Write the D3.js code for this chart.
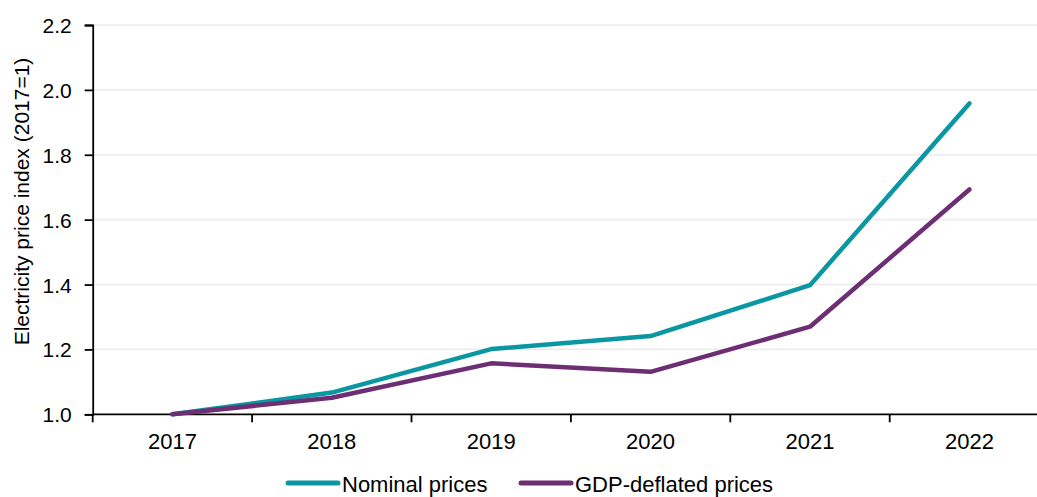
<!DOCTYPE html>
<html>
<head>
<meta charset="utf-8">
<script src="https://cdn.jsdelivr.net/npm/d3@7"></script>
<style>
  html, body { margin: 0; padding: 0; background: #fff; }
  svg { display: block; font-family: "Liberation Sans", Arial, sans-serif; }
</style>
</head>
<body>
<svg id="chart" width="1037" height="497"></svg>
<script>
// Electricity price index, 2017 = 1
const years = ["2017", "2018", "2019", "2020", "2021", "2022"];
const nominal = [1.0, 1.067, 1.201, 1.241, 1.398, 1.958];
const deflated = [1.0, 1.051, 1.157, 1.131, 1.270, 1.693];
const yTicks = [1.0, 1.2, 1.4, 1.6, 1.8, 2.0, 2.2];
const seriesNames = ["Nominal prices", "GDP-deflated prices"];
const seriesColors = ["#0a97a1", "#6d2e73"];

const svg = d3.select("#chart");
const plotLeft = 92.7, plotTop = 25, plotBottom = 414.3;
const step = 159.4;

const x = d3.scaleBand().domain(years).range([plotLeft, plotLeft + step * years.length]);
const y = d3.scaleLinear().domain([1.0, 2.2]).range([plotBottom, plotTop]);

// horizontal gridlines
svg.append("g").selectAll("line")
  .data(yTicks.filter(d => d > 1.0))
  .join("line")
  .attr("x1", plotLeft).attr("x2", 1037)
  .attr("y1", d => y(d)).attr("y2", d => y(d))
  .attr("stroke", "#ececec").attr("stroke-width", 1.6);

// y axis
const yAxis = svg.append("g")
  .attr("transform", `translate(${plotLeft},0)`)
  .call(d3.axisLeft(y).tickValues(yTicks).tickFormat(d3.format(".1f")).tickSize(8).tickPadding(13));
yAxis.select(".domain").attr("stroke", "#000").attr("stroke-width", 1.8);
yAxis.selectAll(".tick line").attr("stroke", "#000").attr("stroke-width", 1.8);
yAxis.selectAll(".tick text").attr("font-size", 21).attr("fill", "#000")
  .attr("font-family", "Liberation Sans, Arial, sans-serif").attr("dy", "0.36em");

// x axis: labels at band centres, ticks at band boundaries
const xAxis = svg.append("g").attr("transform", `translate(0,${plotBottom})`);
xAxis.append("line")
  .attr("x1", plotLeft).attr("x2", 1037)
  .attr("stroke", "#000").attr("stroke-width", 1.8);
xAxis.selectAll("line.b")
  .data(d3.range(years.length + 1).map(i => plotLeft + i * x.step()))
  .join("line").attr("class", "b")
  .attr("x1", d => d).attr("x2", d => d)
  .attr("y1", 0).attr("y2", 8)
  .attr("stroke", "#000").attr("stroke-width", 1.8);
xAxis.selectAll("text")
  .data(years)
  .join("text")
  .attr("x", d => x(d) + x.bandwidth() / 2)
  .attr("y", 35)
  .attr("text-anchor", "middle")
  .attr("font-size", 22)
  .attr("fill", "#000")
  .text(d => d);

// y axis title
svg.append("text")
  .attr("transform", "translate(28.5,201.5) rotate(-90)")
  .attr("text-anchor", "middle")
  .attr("font-size", 21)
  .attr("fill", "#000")
  .text("Electricity price index (2017=1)");

// series lines
const line = d3.line()
  .x((d, i) => x(years[i]) + x.bandwidth() / 2)
  .y(d => y(d));

[nominal, deflated].forEach((vals, i) => {
  svg.append("path")
    .datum(vals)
    .attr("d", line)
    .attr("fill", "none")
    .attr("stroke", seriesColors[i])
    .attr("stroke-width", 4.5)
    .attr("stroke-linejoin", "round")
    .attr("stroke-linecap", "round");
});

// legend
const legendX = [288, 521];
const legend = svg.append("g");
seriesNames.forEach((name, i) => {
  legend.append("line")
    .attr("x1", legendX[i]).attr("x2", legendX[i] + 50)
    .attr("y1", 483).attr("y2", 483)
    .attr("stroke", seriesColors[i])
    .attr("stroke-width", 5)
    .attr("stroke-linecap", "round");
  legend.append("text")
    .attr("x", legendX[i] + 54)
    .attr("y", 492)
    .attr("font-size", 22)
    .attr("fill", "#000")
    .text(name);
});
</script>
</body>
</html>
